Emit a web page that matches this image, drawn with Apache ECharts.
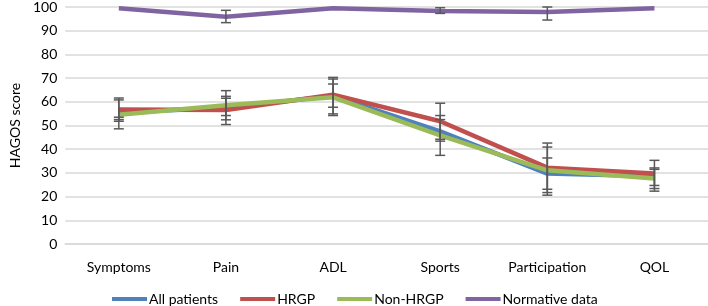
<!DOCTYPE html>
<html>
<head>
<meta charset="utf-8">
<script src="https://cdn.jsdelivr.net/npm/echarts@6/dist/echarts.min.js"></script>
<style>
  html, body { margin: 0; padding: 0; background: #fff; }
  #chart { width: 708px; height: 306px; }
</style>
</head>
<body>
<div id="chart"></div>
<script>
// categories + series means
var categories = ['Symptoms', 'Pain', 'ADL', 'Sports', 'Participation', 'QOL'];

var allPatients = [55.5, 57.5, 62.5, 47.5, 29.7, 28.6];
var hrgp        = [56.7, 56.5, 63.0, 51.8, 32.2, 29.7];
var nonHrgp     = [54.5, 58.5, 61.9, 45.8, 31.1, 27.6];
var normative   = [99.5, 95.9, 99.5, 98.3, 97.9, 99.5];

// error bar ends (low / high), null = no visible bar
var allLow  = [52.5, 52.4, 57.7, 43.4, 23.1, 23.4];
var allHigh = [60.8, 62.3, 67.5, 52.5, 36.3, 32.1];
var hrgpLow  = [51.8, 50.4, 54.9, 44.2, 21.7, 24.7];
var hrgpHigh = [61.6, 61.5, 70.3, 59.4, 42.6, 35.3];
var nonLow  = [48.6, 54.2, 54.2, 37.4, 20.6, 22.3];
var nonHigh = [53.5, 64.7, 69.6, 54.2, 40.9, 31.5];
var normLow  = [null, 93.4, null, 97.3, 94.5, null];
var normHigh = [null, 98.6, null, 99.7, 100, null];

var yTicks = { min: 0, max: 100, interval: 10 };

var colors = ['#4F81BD', '#C0504D', '#9BBB59', '#8064A2'];
var font = 'Lato, "Open Sans", sans-serif';

function errData(low, high) {
  var out = [];
  low.forEach(function (l, i) {
    if (l !== null) out.push([i, l, high[i]]);
  });
  return out;
}

function renderErr(params, api) {
  var x = api.value(0);
  var lo = api.coord([x, api.value(1)]);
  var hi = api.coord([x, api.value(2)]);
  var w = 5;
  var st = { stroke: '#595959', lineWidth: 1.5 };
  return {
    type: 'group',
    children: [
      { type: 'line', shape: { x1: hi[0], y1: hi[1], x2: lo[0], y2: lo[1] }, style: st },
      { type: 'line', shape: { x1: hi[0] - w, y1: hi[1], x2: hi[0] + w, y2: hi[1] }, style: st },
      { type: 'line', shape: { x1: lo[0] - w, y1: lo[1], x2: lo[0] + w, y2: lo[1] }, style: st }
    ]
  };
}

function lineSeries(name, data, idx) {
  return {
    name: name, type: 'line', data: data, symbol: 'none',
    lineStyle: { width: 4.5, color: colors[idx] }, itemStyle: { color: colors[idx] },
    z: 2
  };
}

function errSeries(low, high) {
  return {
    type: 'custom', renderItem: renderErr, data: errData(low, high),
    encode: { x: 0, y: [1, 2] }, z: 3, silent: true
  };
}

var option = {
  animation: false,
  color: colors,
  grid: { left: 57, right: 0, top: 6, bottom: 62 },
  legend: {
    data: ['All patients', 'HRGP', 'Non-HRGP', 'Normative data'],
    top: 287, left: 107,
    icon: 'rect', itemWidth: 35, itemHeight: 4, itemGap: 22,
    textStyle: { fontFamily: font, fontSize: 14, color: '#000', padding: [0, 0, 0, -3] }
  },
  xAxis: {
    type: 'category', data: categories, boundaryGap: true,
    axisLine: { lineStyle: { color: '#d9d9d9', width: 1.5 } },
    axisTick: { show: false },
    axisLabel: { fontFamily: font, fontSize: 14, color: '#000', margin: 16 }
  },
  yAxis: {
    type: 'value', min: yTicks.min, max: yTicks.max, interval: yTicks.interval,
    name: 'HAGOS score', nameLocation: 'middle', nameGap: 41,
    nameTextStyle: { fontFamily: font, fontSize: 14, color: '#000' },
    axisLine: { show: false }, axisTick: { show: false },
    axisLabel: { fontFamily: font, fontSize: 14, color: '#000', margin: 8 },
    splitLine: { lineStyle: { color: '#d9d9d9', width: 1.5 } }
  },
  series: [
    lineSeries('All patients', allPatients, 0),
    lineSeries('HRGP', hrgp, 1),
    lineSeries('Non-HRGP', nonHrgp, 2),
    lineSeries('Normative data', normative, 3),
    errSeries(allLow, allHigh),
    errSeries(hrgpLow, hrgpHigh),
    errSeries(nonLow, nonHigh),
    errSeries(normLow, normHigh)
  ]
};

var myChart = echarts.init(document.getElementById('chart'));
myChart.setOption(option);
</script>
</body>
</html>
